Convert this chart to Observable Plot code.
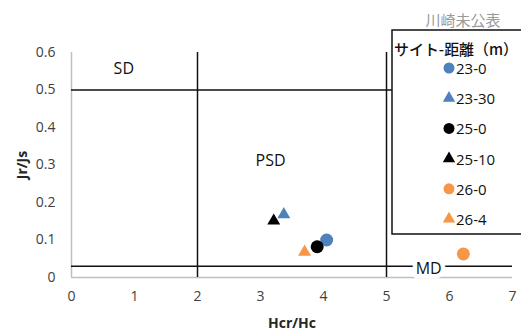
<!DOCTYPE html>
<html>
<head>
<meta charset="utf-8">
<script src="https://cdn.jsdelivr.net/npm/d3@7"></script>
<script src="https://cdn.jsdelivr.net/npm/@observablehq/plot@0.6"></script>
<style>
  html, body { margin: 0; padding: 0; background: white; }
  g[aria-label="x-axis label"] text, g[aria-label="y-axis label"] text { font-weight: bold; fill: #262626; }
</style>
</head>
<body>
<div id="chart"></div>
<script>
// ---- data ----
const sites  = ["23-0", "23-30", "25-0", "25-10", "26-0", "26-4"];
const hcrHc  = [4.05, 3.37, 3.90, 3.21, 6.22, 3.70];
const jrJs   = [0.100, 0.168, 0.082, 0.151, 0.063, 0.068];
const colors = ["#4f81bd", "#4f81bd", "#000000", "#000000", "#f79646", "#f79646"];
const shapes = ["circle", "triangle", "circle", "triangle", "circle", "triangle"];

const xTicks = [0, 1, 2, 3, 4, 5, 6, 7];
const yTicks = [0, 0.1, 0.2, 0.3, 0.4, 0.5, 0.6];

const boundaryX = [2, 5];
const boundaryY = [0.5, 0.03];

const regionLabels = ["SD", "PSD"];
const regionX = [0.83, 3.16];
const regionY = [0.557, 0.312];

const mdLabel = "MD";
const mdX = [5.67];
const mdY = [0.024];

const legendTitle = "サイト-距離（m）";
const note = "川崎未公表";

const points = sites.map((s, i) => ({site: s, x: hcrHc[i], y: jrJs[i], color: colors[i], shape: shapes[i]}));
const regions = regionLabels.map((l, i) => ({label: l, x: regionX[i], y: regionY[i]}));
const md = mdX.map((x, i) => ({label: mdLabel, x, y: mdY[i]}));

const font = "'Open Sans', 'Noto Sans', sans-serif";
const cjk = "'Noto Sans CJK JP', sans-serif";

const chart = Plot.plot({
  width: 521,
  height: 333,
  marginLeft: 71,
  marginRight: 9,
  marginTop: 52,
  marginBottom: 56,
  style: {fontFamily: font, fontSize: "14px", color: "#404040", background: "white"},
  x: {domain: [0, 7]},
  y: {domain: [0, 0.6]},
  marks: [
    Plot.axisX({ticks: xTicks, tickSize: 0, tickPadding: 14, fontSize: 14, tickFormat: d => String(d),
      label: "Hcr/Hc", labelAnchor: "center", labelArrow: "none", labelOffset: 50}),
    Plot.axisY({ticks: yTicks, tickSize: 0, tickPadding: 16, fontSize: 14,
      tickFormat: d => d === 0 ? "0" : d.toFixed(1),
      label: "Jr/Js", labelAnchor: "center", labelArrow: "none", labelOffset: 54}),
    Plot.ruleY([0], {stroke: "#bfbfbf", strokeWidth: 1.5}),
    Plot.ruleX([0], {stroke: "#bfbfbf", strokeWidth: 1.5}),
    Plot.ruleY(boundaryY, {stroke: "#111", strokeWidth: 1.5}),
    Plot.ruleX(boundaryX, {stroke: "#111", strokeWidth: 1.5}),
    Plot.text(regions, {x: "x", y: "y", text: "label", fontSize: 16, fill: "#111"}),
    Plot.text(md, {x: "x", y: "y", text: "label", fontSize: 16, fill: "#111", stroke: "white", strokeWidth: 9}),
    Plot.dot(points.filter(d => d.shape === "circle"), {x: "x", y: "y", fill: "color", r: 6.5, symbol: "circle"}),
    Plot.dot(points.filter(d => d.shape === "triangle"), {x: "x", y: "y", fill: "color", r: 4.8, symbol: "triangle"})
  ]
});

document.getElementById("chart").appendChild(chart);

// ---- legend (drawn inside the plot area, like the reference) ----
const svg = d3.select(chart);
const lg = svg.append("g").attr("font-family", font).attr("text-anchor", "start");
lg.append("text").attr("x", 463).attr("y", 19).attr("text-anchor", "middle")
  .attr("dominant-baseline", "central").attr("fill", "#9a9a9a").attr("font-size", 15)
  .attr("font-family", cjk).text(note);
lg.append("rect").attr("x", 392).attr("y", 30).attr("width", 140).attr("height", 204)
  .attr("fill", "white").attr("stroke", "#111").attr("stroke-width", 1.5);
lg.append("text").attr("x", 394).attr("y", 48).attr("text-anchor", "start")
  .attr("dominant-baseline", "central").attr("fill", "#111").attr("font-size", 15)
  .attr("font-weight", 500).attr("textLength", 124).attr("lengthAdjust", "spacingAndGlyphs")
  .attr("font-family", cjk).text(legendTitle);
points.forEach((d, i) => {
  const cy = 68 + i * 30.2;
  const sym = d.shape === "circle" ? d3.symbolCircle : d3.symbolTriangle;
  const area = d.shape === "circle" ? Math.PI * 5.5 * 5.5 : Math.PI * 4.6 * 4.6;
  lg.append("path").attr("transform", `translate(449,${cy})`)
    .attr("d", d3.symbol(sym, area)()).attr("fill", d.color);
  lg.append("text").attr("x", 456).attr("y", cy).attr("dominant-baseline", "central")
    .attr("text-anchor", "start").attr("fill", "#111").attr("font-size", 15).text(d.site);
});
</script>
</body>
</html>
